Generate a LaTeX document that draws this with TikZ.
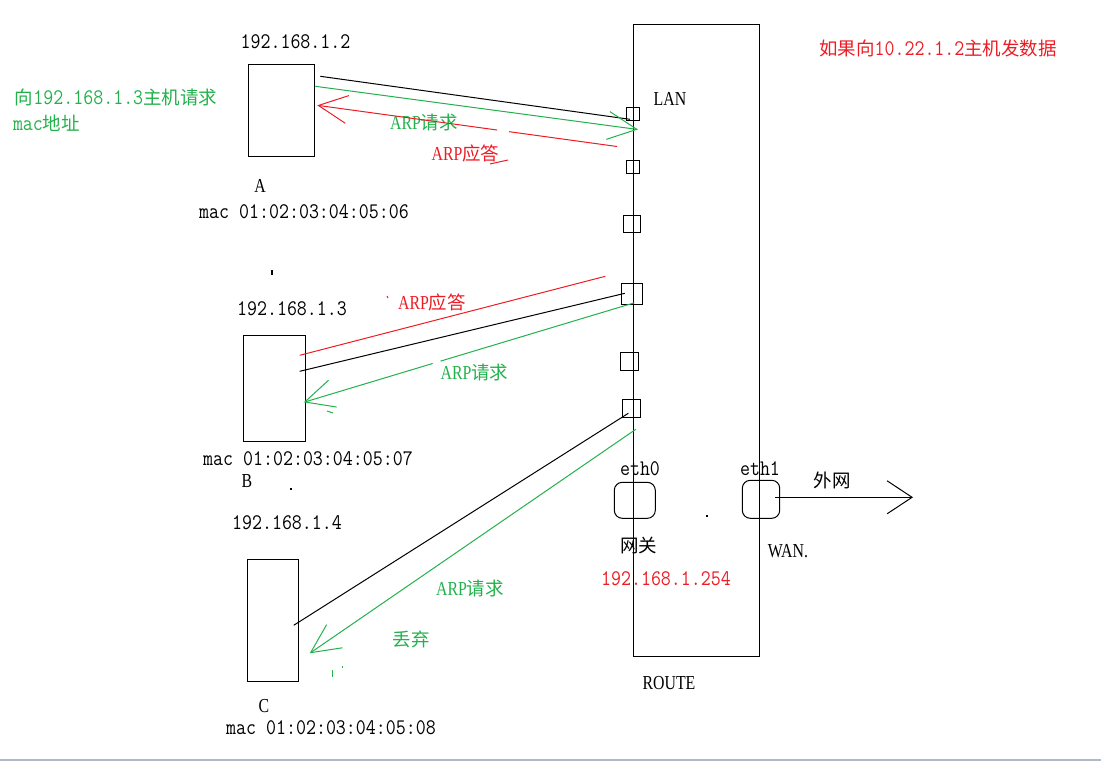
\documentclass[tikz,border=0pt]{standalone}
\usepackage{fontspec}
\setmainfont{Liberation Serif}[Scale=1.2,FakeStretch=0.8]
\setmonofont{Latin Modern Mono}[Scale=1.35,FakeStretch=0.87]
\newfontfamily\cjk{Noto Sans CJK SC}[Scale=1.12]
\usetikzlibrary{arrows.meta,positioning,calc}

\definecolor{arpgreen}{RGB}{34,177,76}
\definecolor{arpred}{RGB}{237,28,36}
\definecolor{barcol}{RGB}{174,185,202}
\newcommand{\txtsize}{\fontsize{16.5}{18}\selectfont}

\begin{document}
\begin{tikzpicture}[x=1pt,y=-1pt,line width=1pt,>={Straight Barb[length=29pt,width=28pt]},
	every node/.style={font=\txtsize,inner sep=0pt,outer sep=0pt},
	box/.style={draw,rectangle},
	iface/.style={draw,rounded corners=8pt},
	addr/.style={font=\txtsize\ttfamily}]

\useasboundingbox (0,0) rectangle (1101,761);
\fill[barcol] (0,759) rectangle (1101,761);

% hosts
\node[box,minimum width=66pt,minimum height=92pt]   (A)  at (281.3,110.3)  {};
	\node[box,minimum width=62.4pt,minimum height=106pt] (B) at (274.5,388.3) {};
 \node[box,minimum width=51.4pt,minimum height=122pt]  (C)  at (273,620.3)  {};

% router and its ports
\node[box,minimum width=126pt,minimum height=632pt] (router) at (696,340) {};
	\node[box,minimum size=13.4pt] (p1) at (633,113.8) {};
	\node[box,minimum size=13.4pt] (p2) at (633,166.8) {};
	\node[box,minimum size=17.4pt] (p3) at (632,223.8) {};
	\node[box,minimum size=21pt]   (p4) at (631.8,293.8) {};
	\node[box,minimum size=18pt]   (p5) at (629.3,361.3) {};
	\node[box,minimum size=18pt]   (p6) at (631.3,408.3) {};
\node[iface,minimum width=41pt,minimum height=36pt]   (eth0) at (634.8,500.3) {};
\node[iface,minimum width=37.4pt,minimum height=38pt] (eth1) at (761,499.3) {};

% labels
\node[addr] (ipA)  at (295.5,42)  {192.168.1.2};
\node       (nmA)  at (260,186)   {A};
\node[addr] (macA) at (304,212)   {mac 01:02:03:04:05:06};
\node[addr] (ipB)  at (292,309)   {192.168.1.3};
\node[addr] (macB) at (308,459)   {mac 01:02:03:04:05:07};
\node       (nmB)  at (247,481)   {B};
\node[addr] (ipC)  at (287,523)   {192.168.1.4};
\node       (nmC)  at (264,706)   {C};
\node[addr] (macC) at (331,728)   {mac 01:02:03:04:05:08};

\node (lan)   at (670,99)  {LAN};
\node (route) at (669,683) {ROUTE};
\node[addr] (e0) at (640,469) {eth0};
\node[addr] (e1) at (760,469) {eth1};
\node (gw)  at (638.5,545) {\cjk 网关};
\node[addr,text=arpred] (gwip) at (666,579) {192.168.1.254};
\node (wan) at (788,551) {WAN.};
\node (ext) at (832,480) {\cjk 外网};

\node[addr,text=arpred] (note) at (938,48) {{\cjk 如果向}10.22.1.2{\cjk 主机发数据}};
\node[addr,text=arpgreen,anchor=west] (ask1) at (15,97)  {{\cjk 向}192.168.1.3{\cjk 主机请求}};
\node[addr,text=arpgreen,anchor=west] (ask2) at (13,123) {mac{\cjk 地址}};

\node[text=arpgreen] (reqA) at (424,122)   {ARP{\cjk 请求}};
\node[text=arpred]   (repA) at (465.5,153) {ARP{\cjk 应答}};
\node[text=arpred]   (repB) at (432,302)   {ARP{\cjk 应答}};
\node[text=arpgreen] (reqB) at (474.5,372) {ARP{\cjk 请求}};
\node[text=arpgreen] (reqC) at (470,588)   {ARP{\cjk 请求}};
\node[text=arpgreen] (drop) at (411,639)   {\cjk 丢弃};

% wire ends
\coordinate (A-blk) at ($(A.north east)+(6,12)$);
\coordinate (A-grn) at ($(A.north east)+(1,22)$);
\coordinate (A-red) at ($(A.east)+(3,-5)$);
\coordinate (p1-blk) at ($(p1.center)+(-3,5.5)$);
\coordinate (p1-grn) at ($(p1.south)+(5,9)$);
\coordinate (p1-red) at ($(p1.south)+(-16,26)$);

\coordinate (B-red) at ($(B.north east)+(-6,20)$);
\coordinate (B-blk) at ($(B.north east)+(-6,36)$);
\coordinate (B-grn) at ($(B.east)+(-2,14)$);
\coordinate (p4-red) at ($(p4.north west)+(-16,-7)$);
\coordinate (p4-blk) at ($(p4.center)+(-7,-0.5)$);
\coordinate (p4-grn) at ($(p4.center)+(2.5,9)$);

\coordinate (C-blk) at ($(C.east)+(-5,5)$);
\coordinate (C-grn) at ($(C.east)+(11,33)$);
\coordinate (p6-blk) at ($(p6.center)+(-3,5)$);
\coordinate (p6-grn) at ($(p6.south)+(4.5,12)$);

\coordinate (net) at (913,497.3);

% host A
\draw (A-blk) -- (p1-blk);
\draw[arpgreen,->] (A-grn) -- (p1-grn);
\draw[arpred] (p1-red) -- ($(p1-red)!0.36!(A-red)$);
\draw[arpred,->] ($(p1-red)!0.40!(A-red)$) -- (A-red);

% host B
\draw[arpred] (B-red) -- (p4-red);
\draw (B-blk) -- (p4-blk);
\draw[arpgreen] (p4-grn) -- ($(p4-grn)!0.586!(B-grn)$);
\draw[arpgreen,->] ($(p4-grn)!0.61!(B-grn)$) -- (B-grn);

% host C
\draw (C-blk) -- (p6-blk);
\draw[arpgreen,->] (p6-grn) -- (C-grn);

% WAN side
\draw[-{Straight Barb[length=25pt,width=33pt]}] ($(eth1.center)+(14,-2)$) -- (net);

% stray pen marks
\draw[line width=2pt] (271.5,270) -- (271.5,275);
\fill (290,488) rectangle (292,490);
\fill (706,515) rectangle (708,517);
\draw[arpgreen] (327,411) -- (333,413);
\draw[arpgreen] (332,670) -- (332,677);
\draw[arpgreen] (342,666) -- (342,668);
\draw[arpred] (387,296) -- (388,298);
\draw[arpred] (490,164) -- (508,160);

\end{tikzpicture}
\end{document}
